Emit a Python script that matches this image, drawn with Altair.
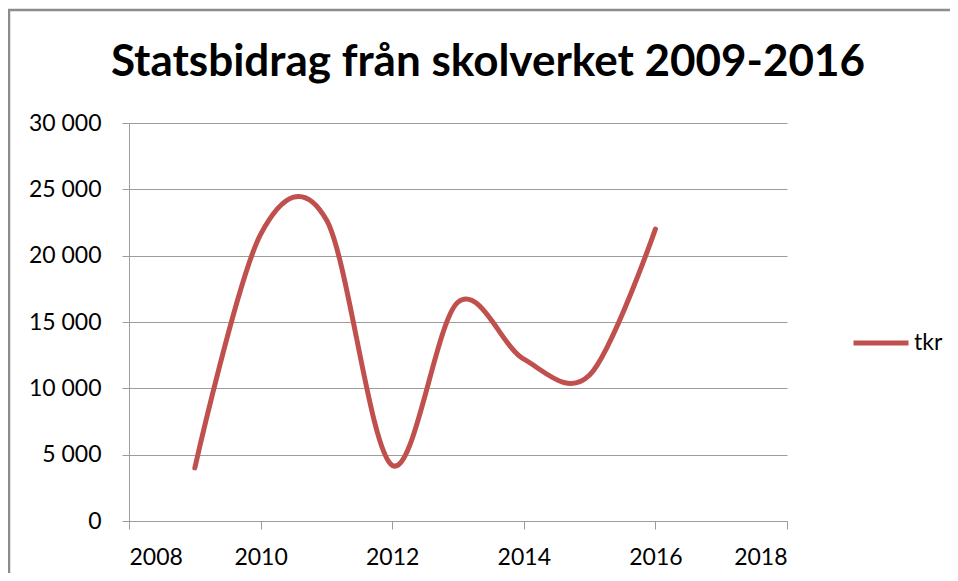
import altair as alt
import pandas as pd

years = [2009, 2010, 2011, 2012, 2013, 2014, 2015, 2016]
tkr = [4000, 21600, 22700, 4200, 16500, 12200, 11000, 22000]
series_name = "tkr"
x_ticks = [2008, 2010, 2012, 2014, 2016, 2018]
y_ticks = [0, 5000, 10000, 15000, 20000, 25000, 30000]
title_text = "Statsbidrag från skolverket 2009-2016"

df = pd.DataFrame({"year": years, "value": tkr, "series": [series_name] * len(years)})

W, H = 658, 398
FONT = "Lato"
GRID = "#9c9c9c"
LBL = 23

line = alt.Chart(df).mark_line(
    interpolate="cardinal", strokeWidth=5, strokeCap="round", strokeJoin="round"
).encode(
    x=alt.X("year:Q", scale=alt.Scale(domain=[2008, 2018], nice=False, zero=False),
            axis=alt.Axis(values=x_ticks, format="d", grid=False, title=None,
                          tickSize=8, tickColor=GRID, domainColor=GRID,
                          labelFont=FONT, labelFontSize=LBL, labelColor="#000000",
                          labelPadding=17)),
    y=alt.Y("value:Q", scale=alt.Scale(domain=[0, 30000], nice=False),
            axis=alt.Axis(values=y_ticks, grid=True, gridColor=GRID, title=None,
                          tickSize=7, tickColor=GRID, domainColor=GRID,
                          labelFont=FONT, labelFontSize=LBL, labelColor="#000000",
                          labelPadding=21,
                          labelExpr="replace(format(datum.value, ','), ',', ' ')")),
    color=alt.Color("series:N", scale=alt.Scale(range=["#C0504D"]),
                    legend=alt.Legend(title=None, orient="none", legendX=722, legendY=190,
                                      symbolType="stroke", symbolSize=3025,
                                      symbolStrokeWidth=5, labelFont=FONT,
                                      labelFontSize=LBL, labelColor="#000000",
                                      labelOffset=3, padding=0)),
)

title = alt.Chart().mark_text(
    text=title_text, font=FONT, fontSize=44, fontWeight="bold", color="#000000",
    align="center", baseline="alphabetic"
).encode(x=alt.value(359), y=alt.value(-47))

border_top = alt.Chart().mark_rule(color="#8c8c8c", strokeWidth=2.5).encode(
    x=alt.value(-122), x2=alt.value(830), y=alt.value(-113))
border_left = alt.Chart().mark_rule(color="#8c8c8c", strokeWidth=2.5).encode(
    x=alt.value(-120), y=alt.value(-113), y2=alt.value(460))

chart = alt.layer(border_top, border_left, title, line).properties(
    width=W, height=H,
    autosize=alt.AutoSizeParams(type="none"),
    padding={"left": 121, "top": 115, "right": 163, "bottom": 52},
).configure_view(stroke=None)

chart.save("out.html", embed_options={"renderer": "svg", "actions": False})
